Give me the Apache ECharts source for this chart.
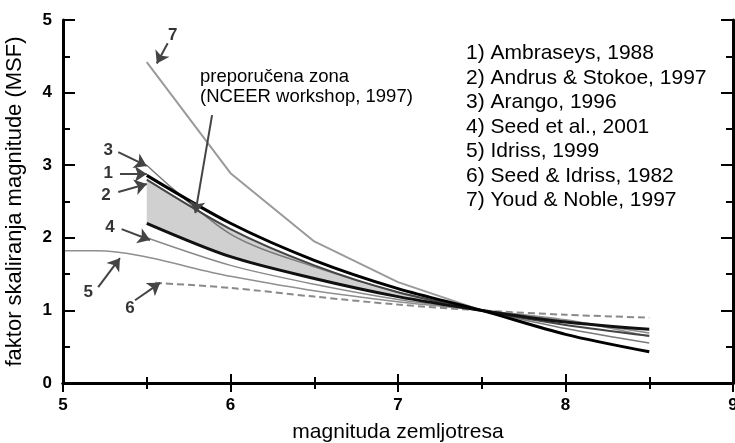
<!DOCTYPE html>
<html>
<head>
<meta charset="utf-8">
<title>MSF</title>
<script src="https://cdn.jsdelivr.net/npm/echarts@6/dist/echarts.min.js"></script>
<style>
html, body { margin: 0; padding: 0; background: #fff; }
#chart { width: 735px; height: 443px; }
</style>
</head>
<body>
<div id="chart"></div>
<script>
// magnitude points of the curves
const magnitudes = [5.5, 6.0, 6.5, 7.0, 7.5, 8.0, 8.5]
const ambraseys = [2.86, 2.20, 1.69, 1.30, 1.00, 0.67, 0.43]
const andrusStokoe = [2.80, 2.12, 1.62, 1.25, 1.00, 0.80, 0.65]
const arango = [3.00, 2.05, 1.60, 1.25, 1.00, 0.75, 0.55]
const zoneLower = [2.20, 1.74, 1.44, 1.19, 1.00, 0.84, 0.74]
const seed2001 = [2.00, 1.62, 1.36, 1.15, 1.00, 0.86, 0.69]

const idrissMag = [5.0, 5.2, 6.0, 6.5, 7.0, 7.5, 8.0, 8.5]
const idriss = [1.82, 1.82, 1.47, 1.27, 1.12, 1.00, 0.87, 0.64]

const seedIdrissMag = [5.55, 6.0, 6.5, 7.0, 7.5, 8.0, 8.5]
const seedIdriss = [1.38, 1.31, 1.19, 1.08, 1.00, 0.94, 0.90]

const youdMag = [5.5, 6.0, 6.5, 7.0, 7.5]
const youdNoble = [4.42, 2.89, 1.95, 1.39, 1.00]

// preporucena zona: 5.5 - 7.5
const zoneCount = 5

const legendLines = [
    '1) Ambraseys, 1988',
    '2) Andrus & Stokoe, 1997',
    '3) Arango, 1996',
    '4) Seed et al., 2001',
    '5) Idriss, 1999',
    '6) Seed & Idriss, 1982',
    '7) Youd & Noble, 1997'
]

// brojevi uz strelice
const pointerNames = ['7', '3', '1', '2', '4', '5', '6']
const pointerText = [[5.655, 4.79], [5.27, 3.21], [5.27, 2.89], [5.256, 2.58], [5.28, 2.15], [5.15, 1.25], [5.40, 1.03]]
const pointerFrom = [[5.625, 4.68], [5.33, 3.18], [5.34, 2.88], [5.33, 2.63], [5.35, 2.12], [5.21, 1.32], [5.43, 1.14], [5.89, 3.69]]
const pointerTo = [[5.56, 4.40], [5.50, 2.99], [5.50, 2.88], [5.50, 2.74], [5.52, 1.97], [5.34, 1.72], [5.58, 1.38], [5.79, 2.34]]

const pair = (xs, ys) => xs.map((x, i) => [x, ys[i]])

const font = '"Liberation Sans", Arial, sans-serif'
const SMOOTH = 0.3

function curve (name, xs, ys, color, width, type, smooth) {
    return {
        name: name,
        type: 'line',
        data: pair(xs, ys),
        showSymbol: false,
        smooth: smooth === undefined ? SMOOTH : smooth,
        lineStyle: { color: color, width: width, type: type || 'solid' },
        z: 3
    }
}

// zona se slaze po y (kolona 0 = y, kolona 1 = x)
const zoneX = magnitudes.slice(0, zoneCount)
const zoneBase = zoneLower.slice(0, zoneCount)
const zoneDiff = andrusStokoe.slice(0, zoneCount).map((v, i) => v - zoneBase[i])

const tickStyle = { color: '#000', width: 2 }

const chart = echarts.init(document.getElementById('chart'))

const option = {
    backgroundColor: '#fff',
    animation: false,
    grid: { left: 63, right: 2, top: 20, bottom: 60, containLabel: false, outerBoundsMode: 'none' },
    xAxis: [
        {
            type: 'value', min: 5, max: 9, interval: 1, position: 'bottom', z: 10,
            name: 'magnituda zemljotresa',
            nameLocation: 'middle',
            nameGap: 39,
            nameTextStyle: { fontSize: 21, color: '#000', fontFamily: font },
            axisLine: { lineStyle: { color: '#000', width: 3 } },
            axisTick: { inside: true, length: 9, lineStyle: tickStyle },
            minorTick: { show: true, splitNumber: 2, length: 6, lineStyle: tickStyle },
            splitLine: { show: false },
            axisLabel: { fontWeight: 'bold', fontSize: 17, color: '#000', margin: 14, fontFamily: font }
        },
        {
            type: 'value', min: 5, max: 9, interval: 1, position: 'top', z: 10,
            axisLine: { lineStyle: { color: '#000', width: 3 } },
            axisTick: { inside: true, length: 9, lineStyle: tickStyle },
            minorTick: { show: true, splitNumber: 2, length: 6, lineStyle: tickStyle },
            splitLine: { show: false },
            axisLabel: { show: false }
        }
    ],
    yAxis: [
        {
            type: 'value', min: 0, max: 5, interval: 1, position: 'left', z: 10,
            name: 'faktor skaliranja magnitude (MSF)',
            nameLocation: 'middle',
            nameGap: 37,
            nameTextStyle: { fontSize: 22, color: '#000', fontFamily: font },
            axisLine: { show: true, lineStyle: { color: '#000', width: 3 } },
            axisTick: { show: true, inside: true, length: 12, lineStyle: tickStyle },
            minorTick: { show: true, splitNumber: 2, length: 7, lineStyle: tickStyle },
            splitLine: { show: false },
            axisLabel: { fontWeight: 'bold', fontSize: 17, color: '#000', margin: 11, fontFamily: font }
        },
        {
            type: 'value', min: 0, max: 5, interval: 1, position: 'right', z: 10,
            axisLine: { show: true, lineStyle: { color: '#000', width: 3 } },
            axisTick: { show: true, inside: true, length: 12, lineStyle: tickStyle },
            minorTick: { show: true, splitNumber: 2, length: 7, lineStyle: tickStyle },
            splitLine: { show: false },
            axisLabel: { show: false }
        }
    ],
    graphic: [
        {
            type: 'text', left: 466, top: 41,
            style: { text: legendLines.join('\n'), fontSize: 21, lineHeight: 24.5, fontFamily: font, fill: '#000' }
        },
        {
            type: 'text', left: 200, top: 67,
            style: { text: 'preporučena zona\n(NCEER workshop, 1997)', fontSize: 18.5, lineHeight: 20, fontFamily: font, fill: '#000' }
        }
    ],
    series: [
        {
            name: 'zona_osnova', type: 'line', stack: 'zona',
            data: zoneX.map((x, i) => [zoneBase[i], x]),
            encode: { x: 1, y: 0 },
            showSymbol: false, smooth: SMOOTH,
            lineStyle: { width: 0, opacity: 0 }, z: 1, silent: true
        },
        {
            name: 'zona', type: 'line', stack: 'zona',
            data: zoneX.map((x, i) => [zoneDiff[i], x]),
            encode: { x: 1, y: 0 },
            showSymbol: false, smooth: SMOOTH,
            lineStyle: { width: 0, opacity: 0 },
            areaStyle: { color: '#d0d0d0', opacity: 1 }, z: 1, silent: true
        },
        curve('Youd & Noble', youdMag, youdNoble, '#9a9a9a', 2, 'solid', false),
        curve('Seed & Idriss', seedIdrissMag, seedIdriss, '#8a8a8a', 2, [7, 4]),
        curve('Idriss', idrissMag, idriss, '#8f8f8f', 1.5),
        curve('Seed et al.', magnitudes, seed2001, '#8a8a8a', 1.5),
        curve('Arango', magnitudes, arango, '#7a7a7a', 1.5),
        curve('Andrus & Stokoe', magnitudes, andrusStokoe, '#444', 2),
        curve('donja granica', magnitudes, zoneLower, '#111', 3),
        curve('Ambraseys', magnitudes, ambraseys, '#000', 3),
        {
            name: 'strelice', type: 'lines', coordinateSystem: 'cartesian2d',
            data: pointerFrom.map((p, i) => ({ coords: [p, pointerTo[i]] })),
            symbol: ['none', 'arrow'], symbolSize: 12,
            lineStyle: { color: '#444', width: 2, opacity: 1 },
            effect: { show: false }, z: 5
        },
        {
            name: 'oznake', type: 'scatter',
            data: pointerText.map((p, i) => ({ value: p, name: pointerNames[i] })),
            symbolSize: 0,
            label: {
                show: true, position: 'inside', formatter: '{b}',
                fontSize: 17, fontWeight: 'bold', color: '#000', fontFamily: font
            },
            z: 5
        }
    ]
}

chart.setOption(option)
</script>
</body>
</html>
